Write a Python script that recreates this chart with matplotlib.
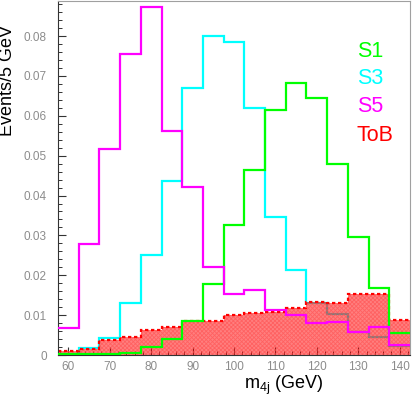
import numpy as np
import matplotlib
matplotlib.use("Agg")
import matplotlib.pyplot as plt
from matplotlib.ticker import MultipleLocator, FormatStrFormatter

plt.rcParams["font.family"] = ["Liberation Sans", "DejaVu Sans"]
plt.rcParams["mathtext.fontset"] = "custom"
plt.rcParams["mathtext.rm"] = "Liberation Sans"
plt.rcParams["hatch.linewidth"] = 0.6

# bin centres (5 GeV bins) and normalised event counts per sample
mass = [60, 65, 70, 75, 80, 85, 90, 95, 100, 105, 110, 115, 120, 125, 130, 135, 140]
s1 = [0.0002, 0.0002, 0.0003, 0.0006, 0.0019, 0.0039, 0.0086, 0.0178, 0.0325,
      0.0463, 0.0615, 0.0682, 0.0645, 0.0478, 0.0296, 0.0168, 0.0054]
s3 = [0.0003, 0.0018, 0.0043, 0.0131, 0.0250, 0.0437, 0.0670, 0.0800, 0.0786,
      0.0620, 0.0346, 0.0212, 0.0131, 0.0102, 0.0057, 0.0044, 0.0022]
s5 = [0.0068, 0.0279, 0.0516, 0.0756, 0.0874, 0.0563, 0.0421, 0.0221, 0.0153,
      0.0163, 0.0113, 0.0100, 0.0081, 0.0083, 0.0058, 0.0070, 0.0025]
tob = [0.0011, 0.0015, 0.0038, 0.0044, 0.0063, 0.0069, 0.0086, 0.0085, 0.0100,
       0.0106, 0.0109, 0.0117, 0.0132, 0.0130, 0.0154, 0.0154, 0.0088]

labels = ["S1", "S3", "S5", "ToB"]
colors = ["#00ff00", "#00ffff", "#ff00ff", "#ff0000"]

centres = np.array(mass, dtype=float)
edges = np.append(centres - 2.5, centres[-1] + 2.5)

fig = plt.figure(figsize=(4.14, 3.96), dpi=100)
ax = fig.add_axes([58 / 414, 1 - 355 / 396, 352 / 414, 354 / 396])

ax.stairs(s3, edges, color=colors[1], lw=1.6, baseline=None, zorder=1)
ax.stairs(tob, edges, fill=True, facecolor=(1, 0, 0, 0.5), edgecolor=(1, 0.3, 0.3, 0.6),
          hatch="xxxxxxxx", lw=0, zorder=2)
ax.stairs(tob, edges, color=colors[3], lw=1.6, ls=(0, (1.5, 1.2)), baseline=None, zorder=2.5)
ax.stairs(s1, edges, color=colors[0], lw=1.6, baseline=None, zorder=3)
ax.stairs(s5, edges, color=colors[2], lw=1.6, baseline=None, zorder=3)

ax.set_xlim(57.5, 142.5)
ax.set_ylim(0, 0.0888)

ax.xaxis.set_major_locator(MultipleLocator(10))
ax.xaxis.set_minor_locator(MultipleLocator(2))
ax.yaxis.set_major_locator(MultipleLocator(0.01))
ax.yaxis.set_minor_locator(MultipleLocator(0.002))
ax.yaxis.set_major_formatter(FormatStrFormatter("%g"))

ax.tick_params(which="both", direction="in", top=False, right=False,
               colors="#333333", labelcolor="#8c8c8c", labelsize=8.5)
ax.tick_params(which="major", length=6, width=0.8)
ax.tick_params(which="minor", length=3, width=0.7)
ax.tick_params(axis="y", pad=8)
ax.tick_params(axis="x", pad=4)

for side in ["top", "right"]:
    ax.spines[side].set_color("#a0a0a0")
for side in ["left", "bottom"]:
    ax.spines[side].set_color("#333333")

ax.set_ylabel("Events/5 GeV", fontsize=13)
ax.yaxis.set_label_coords(-0.118, 0.775)
ax.set_xlabel("m$_{\\mathrm{4j}}$ (GeV)", fontsize=13)
ax.xaxis.set_label_coords(0.642, -0.054)
ax.xaxis.label.set_verticalalignment("top")

ypos = [0.856, 0.782, 0.701, 0.621]
for lab, c, yp in zip(labels, colors, ypos):
    ax.text(0.849, yp, lab, color=c, fontsize=15.5, transform=ax.transAxes,
            ha="left", va="center")

fig.savefig("out.png", dpi=100)
